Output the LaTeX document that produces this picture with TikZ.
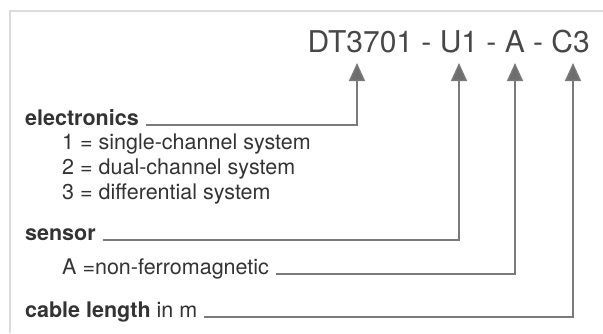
\documentclass[tikz,border=0pt]{standalone}
\usepackage{fontspec}
\setmainfont{TeX Gyre Heros}
\usepackage{tikz}
\usetikzlibrary{arrows.meta}
\definecolor{framegray}{HTML}{DCDCDC}
\definecolor{leadgray}{HTML}{7A7A7A}
\definecolor{textgray}{HTML}{333333}
\tikzset{
  lead/.style={draw=leadgray, line width=1.5pt},
  ->lead/.style={lead, -{Triangle[width=16pt,length=18pt,fill=leadgray!90!black]}},
  label/.style={anchor=base west, inner sep=0pt, text=textgray,
    font=\fontsize{21.5}{26}\selectfont},
  code/.style={anchor=base east, inner sep=0pt, text=textgray!90,
    font=\fontsize{30}{36}\selectfont}}

\begin{document}
\begin{tikzpicture}[x=1pt,y=-1pt]
    \useasboundingbox (0,0) rectangle (603,333);
    \draw[framegray, line width=2pt] (603,11) -- (10,11) -- (10,333);
    \node[code] (code) at (590,52) {DT3701 - U1 - A - C3};
    \coordinate (t1) at (357,63);
    \coordinate (t2) at (459,63);
    \coordinate (t3) at (515,63);
    \coordinate (t4) at (573,63);
    \node[label] (elec) at (25,125) {\bfseries electronics};
    \node[label] (e1) at (62,149) {1 = single-channel system};
    \node[label] (e2) at (62,174) {2 = dual-channel system};
    \node[label] (e3) at (62,199) {3 = differential system};
    \node[label] (sens) at (25,240) {\bfseries sensor};
    \node[label] (mat) at (62,274) {A =non-ferromagnetic};
    \node[label] (cable) at (25,317) {\textbf{cable length} in m};
    \draw[->lead] ([xshift=7pt]elec.base east) -| (t1);
    \draw[->lead] ([xshift=7pt]sens.base east) -| (t2);
    \draw[->lead] ([xshift=7pt]mat.base east) -| (t3);
    \draw[->lead] ([xshift=7pt]cable.base east) -| (t4);
\end{tikzpicture}
\end{document}
